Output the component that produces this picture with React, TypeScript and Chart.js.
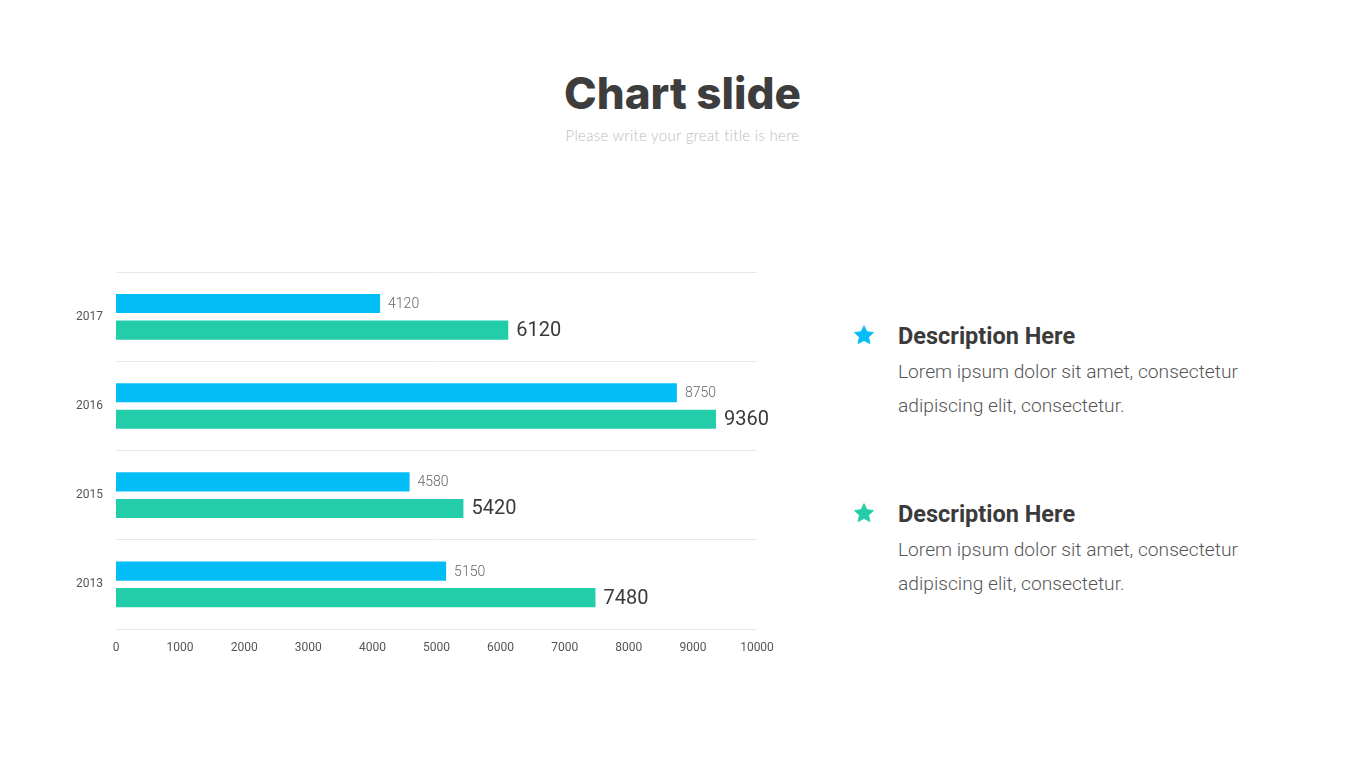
import React, { useEffect, useRef } from "react";
import { Chart, registerables } from "chart.js";

Chart.register(...registerables);

const categories = ["2017", "2016", "2015", "2013"];
const seriesA = [4120, 8750, 4580, 5150];
const seriesB = [6120, 9360, 5420, 7480];
const xTicks = [0, 1000, 2000, 3000, 4000, 5000, 6000, 7000, 8000, 9000, 10000];

const BLUE = "#03BEF6";
const GREEN = "#23CDA9";

const labelPlugin = {
  id: "barLabels",
  afterDatasetsDraw(chart: any) {
    const ctx = chart.ctx;
    chart.data.datasets.forEach((ds: any, di: number) => {
      const meta = chart.getDatasetMeta(di);
      meta.data.forEach((el: any, i: number) => {
        ctx.save();
        if (di === 0) {
          ctx.font = "300 14px Roboto";
          ctx.fillStyle = "#666666";
        } else {
          ctx.font = "400 20px Roboto";
          ctx.fillStyle = "#3a3a3a";
        }
        ctx.textAlign = "left";
        ctx.textBaseline = "middle";
        ctx.fillText(String(ds.data[i]), el.x + 8, el.y + 1);
        ctx.restore();
      });
    });
  },
};

function BarChart() {
  const ref = useRef<HTMLCanvasElement>(null);
  useEffect(() => {
    if (!ref.current) return;
    const chart = new Chart(ref.current, {
      type: "bar",
      data: {
        labels: categories,
        datasets: [
          { data: seriesA, backgroundColor: BLUE, categoryPercentage: 0.596, barPercentage: 0.72 },
          { data: seriesB, backgroundColor: GREEN, categoryPercentage: 0.596, barPercentage: 0.72 },
        ],
      },
      options: {
        indexAxis: "y",
        animation: false,
        responsive: false,
        maintainAspectRatio: false,
        layout: { padding: { top: 0, right: 43, left: 0, bottom: 0 } },
        plugins: { legend: { display: false }, tooltip: { enabled: false } },
        scales: {
          x: {
            min: 0,
            max: 10000,
            afterBuildTicks: (s: any) => {
              s.ticks = xTicks.map((v) => ({ value: v }));
            },
            afterFit: (s: any) => {
              s.height = 30;
            },
            grid: { display: false, drawTicks: false },
            border: { display: false },
            ticks: {
              padding: 12,
              color: "#555555",
              font: { family: "Roboto", size: 12 },
              maxRotation: 0,
              autoSkip: false,
              callback: (v: any) => String(v),
            },
          },
          y: {
            afterFit: (s: any) => {
              s.width = 76;
            },
            grid: { color: "#e8e8e8", lineWidth: 1, drawTicks: false, offset: true },
            border: { display: false },
            ticks: { padding: 13, color: "#555555", font: { family: "Roboto", size: 12 } },
          },
        },
      },
      plugins: [labelPlugin],
    } as any);
    return () => chart.destroy();
  }, []);
  return <canvas ref={ref} width={760} height={407} style={{ position: "absolute", left: 40, top: 252 }} />;
}

function Star({ color, top }: { color: string; top: number }) {
  return (
    <svg width="22" height="22" viewBox="0 0 24 24" style={{ position: "absolute", left: 853, top }}>
      <path
        d="M12 1.8l3.1 6.6 7.2.9-5.3 5 1.4 7.1L12 17.9l-6.4 3.5 1.4-7.1-5.3-5 7.2-.9z"
        fill={color}
        stroke={color}
        strokeWidth="1"
        strokeLinejoin="round"
      />
    </svg>
  );
}

function Desc({ top, color }: { top: number; color: string }) {
  return (
    <>
      <Star color={color} top={top - 12} />
      <div
        style={{
          position: "absolute",
          left: 898,
          top: top - 15,
          fontFamily: "Roboto",
          fontWeight: 700,
          fontSize: 23.5,
          color: "#3b3b3b",
          lineHeight: "30px",
          whiteSpace: "nowrap",
        }}
      >
        Description Here
      </div>
      <div
        style={{
          position: "absolute",
          left: 898,
          top: top + 19,
          fontFamily: "Roboto",
          fontWeight: 300,
          fontSize: 19.2,
          color: "#555555",
          lineHeight: "34px",
          whiteSpace: "nowrap",
        }}
      >
        Lorem ipsum dolor sit amet, consectetur
        <br />
        adipiscing elit, consectetur.
      </div>
    </>
  );
}

export default function App() {
  return (
    <div style={{ position: "absolute", left: 0, top: 0, width: 1365, height: 768, background: "#ffffff", overflow: "hidden" }}>
      <div
        style={{
          position: "absolute",
          left: 0,
          width: 1365,
          top: 66,
          textAlign: "center",
          fontFamily: "Inter",
          fontWeight: 800,
          fontSize: 44,
          color: "#3d3d3d",
          lineHeight: "54px",
        }}
      >
        Chart slide
      </div>
      <div
        style={{
          position: "absolute",
          left: 0,
          width: 1365,
          top: 126,
          textAlign: "center",
          fontFamily: "Lato",
          fontWeight: 300,
          fontSize: 15,
          color: "#bdbdbd",
          lineHeight: "18px",
          letterSpacing: 0.3,
        }}
      >
        Please write your great title is here
      </div>
      <BarChart />
      <Desc top={336} color={BLUE} />
      <Desc top={514} color={GREEN} />
    </div>
  );
}
